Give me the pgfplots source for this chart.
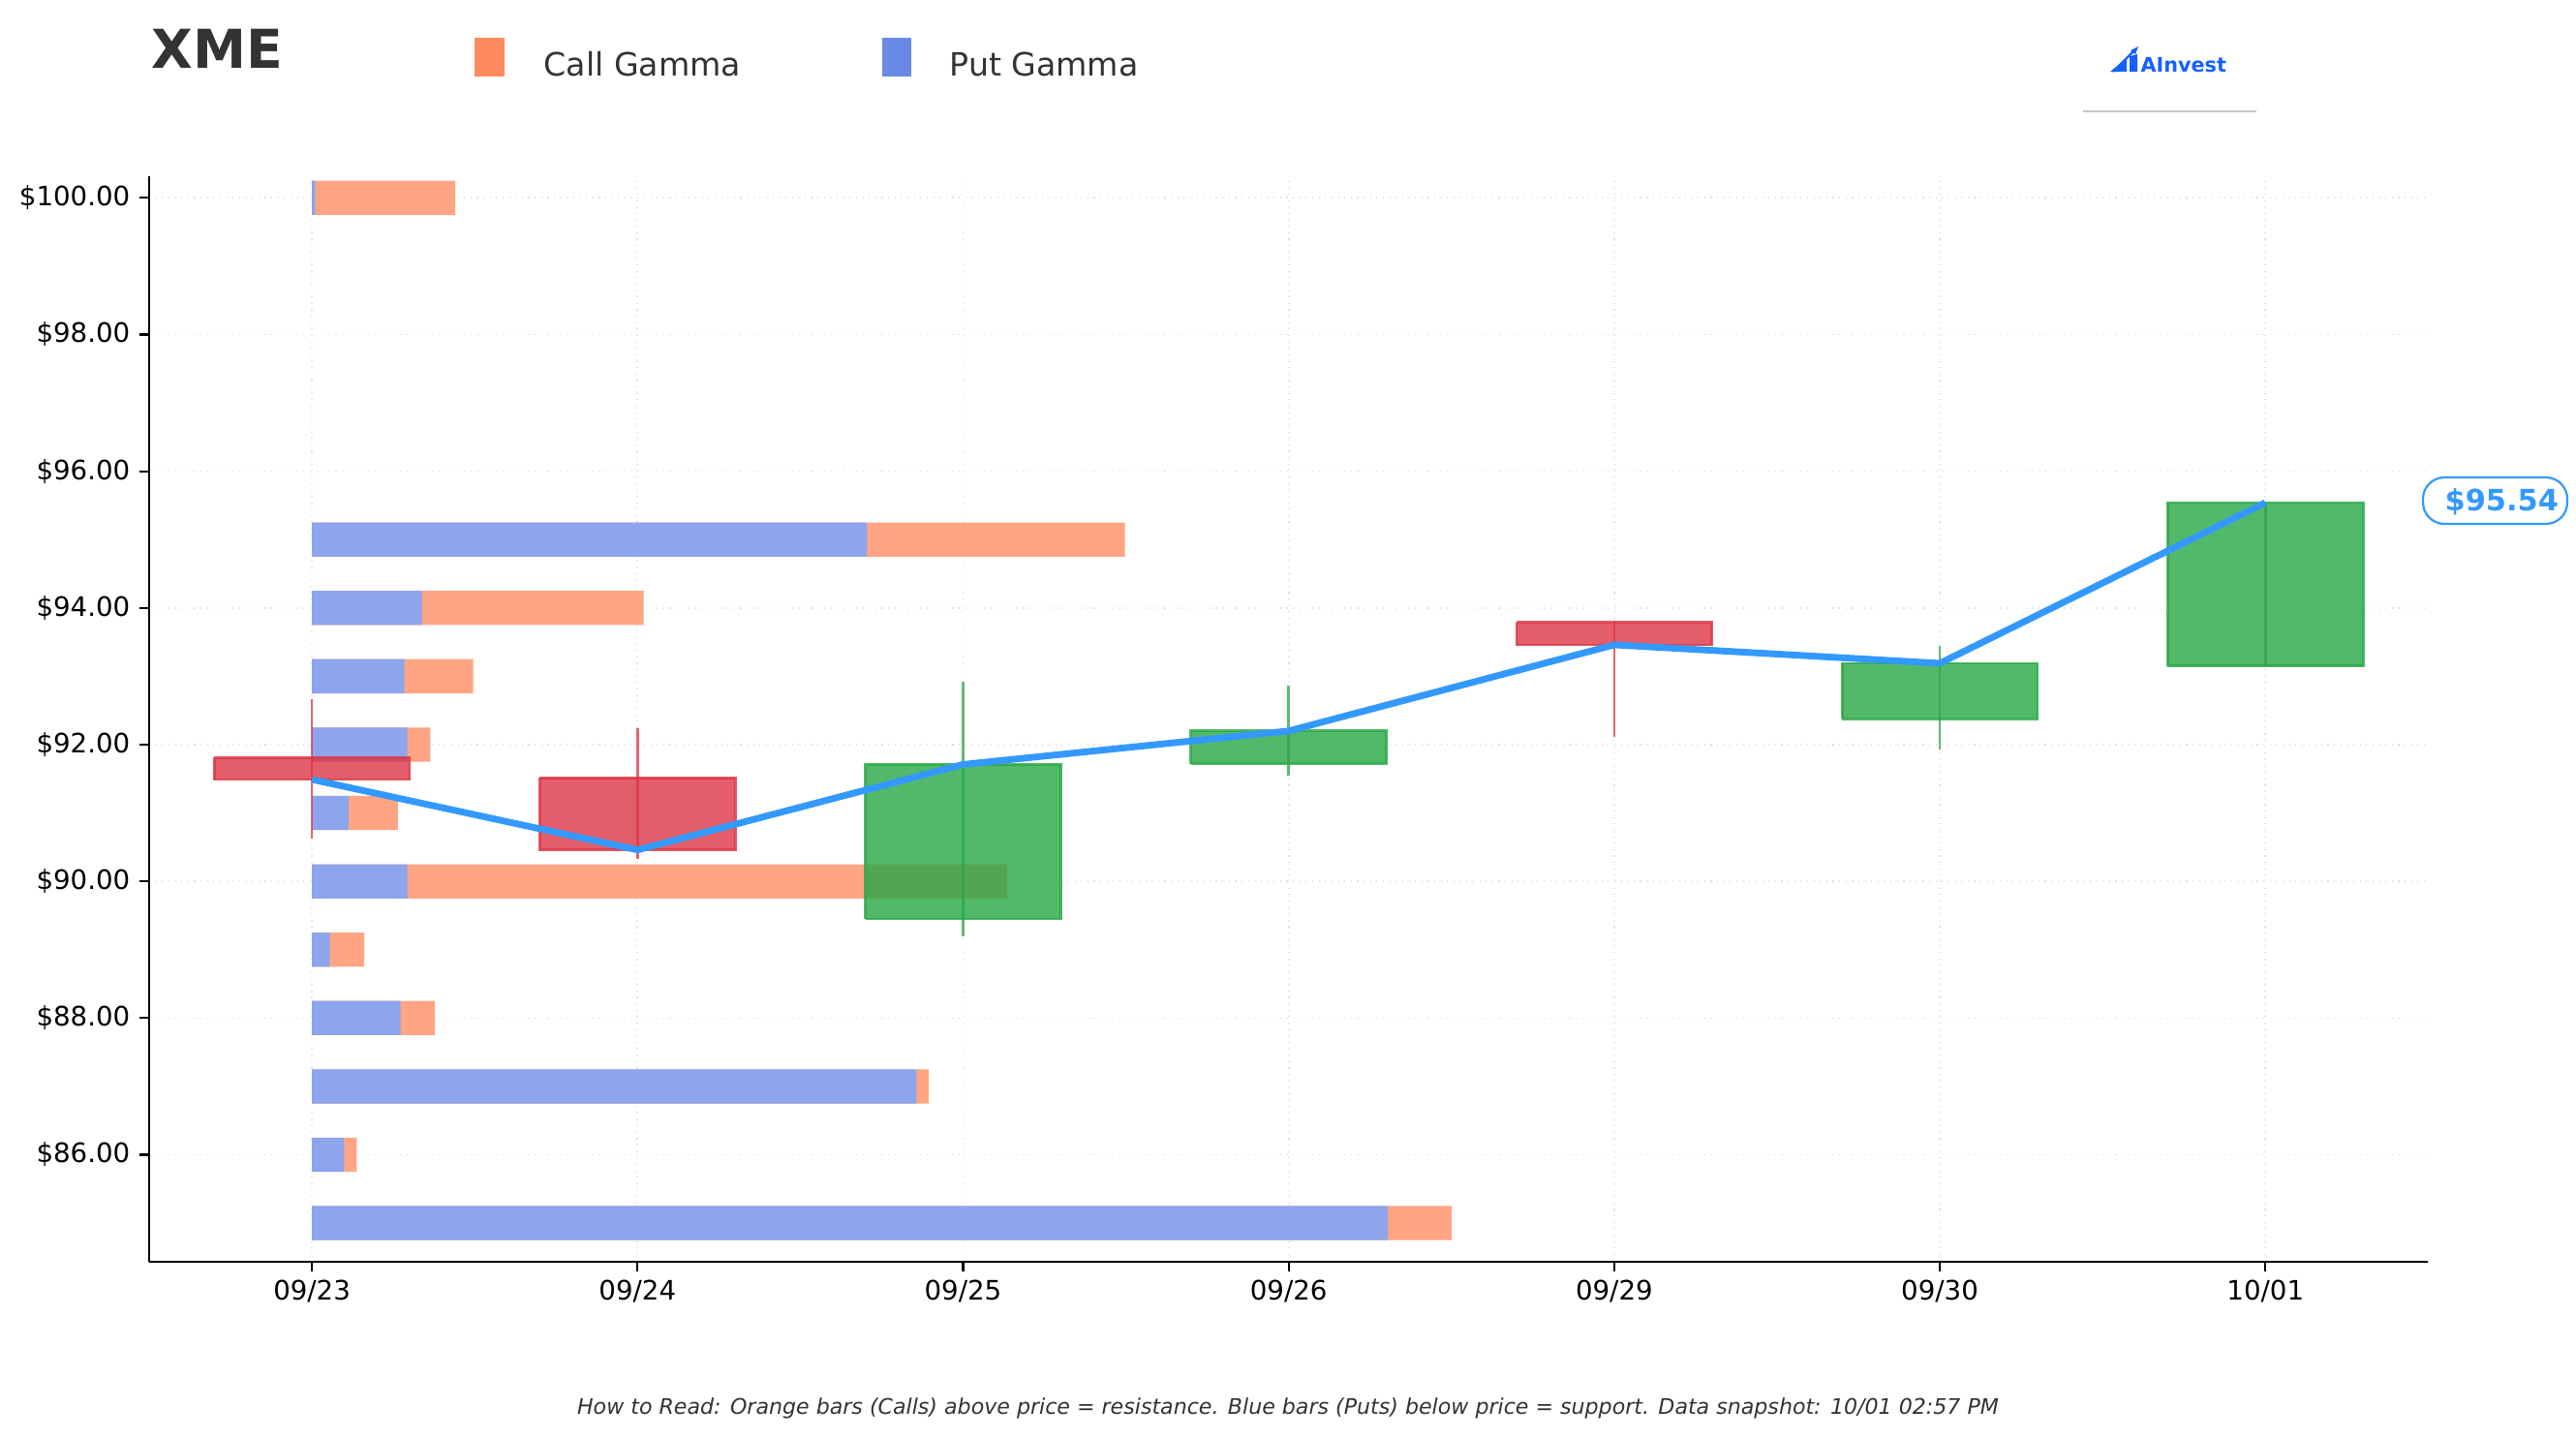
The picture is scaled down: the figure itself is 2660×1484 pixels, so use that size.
\documentclass[border=0pt]{standalone}
\usepackage{fontspec}
\setmainfont{DejaVu Sans}[ItalicFont={DejaVu Sans Oblique},BoldFont={DejaVu Sans Bold},BoldItalicFont={DejaVu Sans Bold Oblique}]
\usepackage{pgfplots}
\pgfplotsset{compat=1.18}
\definecolor{callbar}{HTML}{FFA584}
\definecolor{putbar}{HTML}{8DA5ED}
\definecolor{calleg}{HTML}{FF8A5C}
\definecolor{putleg}{HTML}{6889E5}
\definecolor{cgreen}{HTML}{28A745}
\definecolor{cred}{HTML}{DC3545}
\definecolor{linecol}{HTML}{3399FF}
\definecolor{txt}{HTML}{333333}
\definecolor{brand}{HTML}{1660FF}
% x, left, right, open, high, low, close, colour
\newcommand\candle[8]{%
  \addplot[color=#8, opacity=0.75, line width=1pt] coordinates {(#1,#5) (#1,#6)};
  \addplot[fill=#8, fill opacity=0.8, draw=#8, draw opacity=0.8, line width=1pt]
    coordinates {(#2,#4) (#3,#4) (#3,#7) (#2,#7) (#2,#4)};
}
\begin{document}
\begin{tikzpicture}[x=0.005in,y=-0.005in]
\path[use as bounding box] (0,0) rectangle (2660,1484);
\coordinate (axsw) at (154,1302.6);
\begin{axis}[
  at={(axsw)}, anchor=south west,
  scale only axis, width=11.778in, height=5.61in,
  xmin=-0.5, xmax=6.5, ymin=84.44, ymax=100.32,
  axis lines*=left,
  axis line style={black, line width=0.8pt},
  tick align=outside, major tick length=3.6pt,
  tick style={black, line width=0.8pt},
  xtick={0,1,2,3,4,5,6},
  xticklabels={09/23,09/24,09/25,09/26,09/29,09/30,10/01},
  ytick={86,88,90,92,94,96,98,100},
  yticklabels={\$86.00,\$88.00,\$90.00,\$92.00,\$94.00,\$96.00,\$98.00,\$100.00},
  tick label style={font=\fontsize{10}{12}\selectfont, text=black},
  /pgf/number format/assume math mode=true,
  grid=major,
  major grid style={dotted, color=black!12, line width=0.6pt},
  no markers,
  clip=false,
]
% call gamma (total length, drawn first)
\addplot[xbar, bar width=0.5, bar shift=0pt, fill=callbar, draw=none] coordinates {
 (0.440,100) (2.497,95) (1.019,94) (0.495,93) (0.364,92) (0.264,91) (2.135,90)
 (0.161,89) (0.378,88) (1.894,87) (0.138,86) (3.501,85)};
% put gamma
\addplot[xbar, bar width=0.5, bar shift=0pt, fill=putbar, draw=none] coordinates {
 (0.010,100) (1.705,95) (0.338,94) (0.284,93) (0.293,92) (0.112,91) (0.293,90)
 (0.055,89) (0.272,88) (1.857,87) (0.099,86) (3.304,85)};
% candlesticks
\candle{0}{-0.3}{0.3}{91.81}{92.67}{90.63}{91.49}{cred}
\candle{1}{0.7}{1.3}{91.515}{92.24}{90.33}{90.46}{cred}
\candle{2}{1.7}{2.3}{89.45}{92.92}{89.20}{91.71}{cgreen}
\candle{3}{2.7}{3.3}{91.72}{92.86}{91.54}{92.20}{cgreen}
\candle{4}{3.7}{4.3}{93.79}{93.82}{92.12}{93.46}{cred}
\candle{5}{4.7}{5.3}{92.38}{93.44}{91.93}{93.19}{cgreen}
\candle{6}{5.7}{6.3}{93.15}{95.54}{93.15}{95.54}{cgreen}
% close line
\addplot[color=linecol, line width=2.5pt, line join=round] coordinates {
 (0,91.49) (1,90.46) (2,91.71) (3,92.20) (4,93.46) (5,93.19) (6,95.54)};
\end{axis}
% title and legend
\node[anchor=base west, inner sep=0, text=txt, font=\fontsize{20}{24}\selectfont\bfseries] at (156,70) {XME};
\fill[calleg] (490,39) rectangle (521,79);
\node[anchor=base west, inner sep=0, text=txt, font=\fontsize{12}{14}\selectfont] at (561,78) {Call Gamma};
\fill[putleg] (911,39) rectangle (941,79);
\node[anchor=base west, inner sep=0, text=txt, font=\fontsize{12}{14}\selectfont] at (980,78) {Put Gamma};
% logo
\fill[brand] (2179,74) -- (2196,60) -- (2196,74) -- cycle;
\fill[brand] (2199,74) -- (2199,58) -- (2207,56) -- (2207,74) -- cycle;
\draw[brand, line width=0.8pt] (2182,74) -- (2204,52);
\fill[brand] (2208,48) -- (2200,52) -- (2205,56) -- cycle;
\node[anchor=base west, inner sep=0, text=brand, font=\fontsize{7.5}{9}\selectfont\bfseries] at (2210,74) {AInvest};
\draw[black!22, line width=0.5pt] (2151,115) -- (2330,115);
% price label
\draw[linecol, line width=0.8pt, rounded corners=8, fill=white] (2502,493) rectangle (2651,541);
\node[anchor=base west, inner sep=0, text=linecol, font=\fontsize{11}{13}\selectfont\bfseries] at (2524,527) {\$95.54};
% footnote
\node[anchor=base, inner sep=0, text=txt, font=\fontsize{8}{10}\selectfont\itshape] at (1330,1460) {How to Read: Orange bars (Calls) above price = resistance. Blue bars (Puts) below price = support. Data snapshot: 10/01 02:57 PM};
\end{tikzpicture}
\end{document}
